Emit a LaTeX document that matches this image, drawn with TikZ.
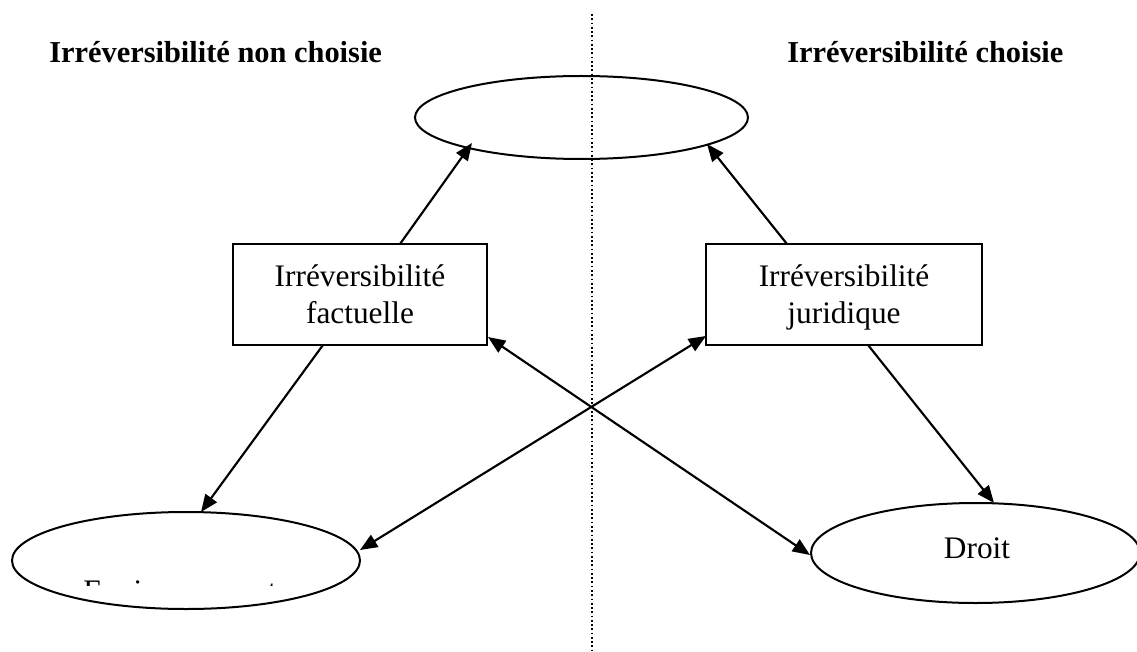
\documentclass[tikz,border=0pt]{standalone}
\usepackage{fontspec}
\setmainfont{Liberation Serif}
\usetikzlibrary{shapes.geometric,arrows.meta,calc}
\tikzset{
  body/.style={font=\fontsize{23.5pt}{27.75pt}\selectfont},
  title/.style={font=\fontsize{22.8pt}{27pt}\selectfont\bfseries, anchor=base west, inner sep=0pt},
  boxnode/.style={draw, line width=1.5pt, body, align=center, minimum width=#1, minimum height=75.75pt, inner sep=0pt, text depth=0pt},
  ell/.style={draw, ellipse, line width=1.5pt, inner sep=0pt, body},
  conn/.style={line width=1.6pt, -{Triangle[length=13pt,width=10.5pt]}},
  dconn/.style={line width=1.6pt, {Triangle[length=13pt,width=10.5pt]}-{Triangle[length=13pt,width=10.5pt]}},
  sep/.style={line width=1pt, dash pattern=on 1.3pt off 1.9pt}
}
\begin{document}
\begin{tikzpicture}[x=0.75pt,y=-0.75pt]
\useasboundingbox (0,0) rectangle (1137,652);
% separator
\coordinate (s1) at (592,14);
\coordinate (s2) at (592,652);
\draw[sep] (s1) -- (s2);
% titles
\node[title] (tl) at (49,63) {Irréversibilité non choisie};
\node[title] (tr) at (787,63) {Irréversibilité choisie};
% ellipses
\node[ell, minimum width=249.75pt, minimum height=62.25pt] (top) at (581.5,117.5) {};
\node[ell, minimum width=261pt, minimum height=72.75pt] (env) at (186,560.5) {};
\node[ell, minimum width=246.75pt, minimum height=75pt] (droit) at (975.5,553) {};
\node[body, anchor=base, inner sep=0pt] (droitlbl) at (977,558) {Droit};
% clipped label
\begin{scope}
\clip (0,575) rectangle (1137,585.5);
\node[body, anchor=base west, inner sep=0pt] (envlbl) at (83,601) {Environnement};
\end{scope}
% boxes
\node[boxnode=190.5pt] (fact) at (360,294.5) {Irréversibilité\\factuelle};
\node[boxnode=207pt] (jur) at (844,294.5) {Irréversibilité\\juridique};
% connectors
\draw[conn] ($(fact.center)+(40,-50.5)$) -- ($(top.center)+(-109.5,25.5)$);
\draw[conn] ($(jur.center)+(-57,-50.5)$) -- ($(top.center)+(125.5,26.5)$);
\draw[conn] ($(fact.center)+(-37,50.5)$) -- ($(env.center)+(15,-48.5)$);
\draw[conn] ($(jur.center)+(24,50.5)$) -- ($(droit.center)+(18.5,-50)$);
\draw[dconn] ($(fact.center)+(128,42.5)$) -- ($(droit.center)+(-165.5,2)$);
\draw[dconn] ($(jur.center)+(-138,41.5)$) -- ($(env.center)+(174,-10.5)$);
\end{tikzpicture}
\end{document}
